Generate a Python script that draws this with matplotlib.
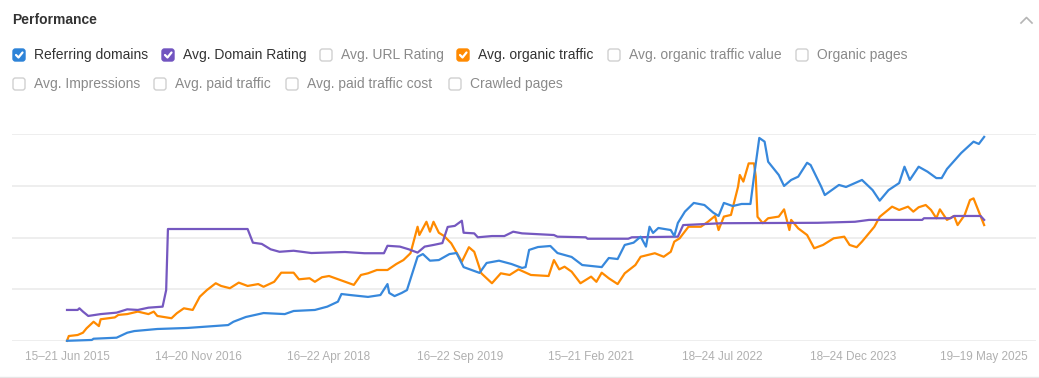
import numpy as np
import matplotlib
matplotlib.use('Agg')
import matplotlib.pyplot as plt
import pandas as pd
from matplotlib.patches import FancyBboxPatch

plt.rcParams['font.family'] = ['Liberation Sans', 'DejaVu Sans']

# weekly data, week 0 = 15 Jun 2015, values as index (0-100 of chart height)
start = pd.Timestamp('2015-06-15')

ref_weeks = [0, 14, 15, 28, 34, 38, 51, 68, 91, 94, 101, 111, 123, 128, 140, 147, 153, 155, 160,
             170, 177, 181, 182, 185, 189, 192, 198, 201, 205, 210, 216, 220, 224, 233, 237, 244,
             251, 257, 259, 261, 266, 273, 277, 285, 291, 302, 306, 311, 315, 320, 324, 327, 329,
             331, 334, 341, 343, 345, 349, 354, 360, 365, 368, 371, 376, 381, 386, 388, 391, 394,
             396, 402, 405, 409, 413, 418, 420, 426, 428, 436, 440, 449, 455, 459, 464, 470, 473,
             476, 481, 486, 491, 494, 497, 505, 512, 515, 518]
ref_domains = [0.1, 0.5, 1.1, 1.6, 4.0, 4.8, 5.8, 6.3, 7.7, 9.3, 11.6, 13.5, 13.0, 14.5, 15.0, 16.6,
               19.0, 22.7, 22.2, 21.3, 22.2, 27.5, 23.2, 21.7, 23.2, 24.6, 40.7, 42.0, 38.8, 39.1,
               42.0, 42.5, 35.7, 32.9, 37.7, 38.8, 37.2, 35.3, 35.7, 44.0, 45.4, 45.9, 42.5, 40.6,
               36.7, 35.7, 40.1, 39.6, 46.4, 47.5, 50.4, 45.6, 55.2, 52.2, 54.6, 53.6, 50.7, 57.0,
               62.5, 66.7, 65.7, 62.0, 60.4, 66.7, 65.2, 66.2, 66.2, 79.4, 98.1, 96.3, 86.6, 80.2,
               74.9, 77.8, 79.4, 86.1, 85.0, 74.5, 70.5, 75.4, 74.4, 77.8, 72.9, 67.8, 72.9, 76.3,
               84.2, 77.8, 84.2, 81.8, 78.7, 78.7, 83.1, 90.8, 96.3, 95.2, 98.6]

dr_weeks = [0, 6, 7, 9, 12, 19, 28, 34, 40, 46, 54, 56, 57, 102, 105, 110, 115, 120, 128, 138,
            157, 168, 179, 181, 188, 193, 198, 202, 207, 212, 215, 219, 223, 224, 230, 232, 240,
            247, 252, 257, 275, 277, 293, 294, 317, 319, 345, 348, 370, 424, 445, 453, 483, 484,
            499, 501, 516, 518]
domain_rating = [15.0, 15.0, 15.8, 14.2, 12.1, 13.0, 13.7, 15.3, 15.0, 16.1, 16.6, 24.6, 54.1,
                 54.1, 47.5, 46.9, 44.3, 43.1, 43.6, 42.5, 43.0, 42.4, 42.4, 46.0, 45.6, 44.3,
                 42.7, 45.6, 46.4, 47.3, 55.1, 55.6, 58.1, 52.3, 52.0, 50.1, 50.7, 50.7, 52.8,
                 52.0, 51.2, 50.4, 50.1, 49.4, 49.4, 50.1, 50.4, 56.0, 56.9, 57.1, 57.6, 58.5,
                 58.5, 59.3, 59.3, 60.4, 60.4, 58.5]

org_weeks = [0, 1, 6, 9, 11, 15, 18, 19, 27, 29, 34, 40, 46, 49, 51, 59, 62, 66, 71, 75, 79, 84,
             87, 92, 97, 102, 108, 111, 117, 121, 128, 131, 137, 140, 144, 148, 157, 162, 166, 170,
             175, 181, 186, 190, 194, 198, 199, 203, 205, 207, 210, 213, 217, 223, 227, 230, 234,
             240, 245, 250, 255, 262, 272, 275, 278, 281, 285, 290, 296, 299, 302, 306, 311, 315,
             321, 324, 332, 337, 341, 343, 346, 351, 358, 362, 366, 368, 371, 375, 379, 380, 382,
             385, 388, 389, 390, 393, 396, 402, 405, 408, 409, 413, 418, 422, 427, 433, 439, 442,
             446, 449, 456, 459, 466, 470, 475, 478, 481, 485, 488, 491, 493, 497, 501, 503, 507,
             510, 512, 515, 518]
organic_traffic = [0.1, 2.4, 2.9, 4.0, 6.1, 9.3, 7.2, 10.5, 11.4, 12.6, 13.0, 14.2, 13.0, 14.2,
                   12.1, 11.0, 13.4, 15.8, 15.0, 21.4, 24.6, 27.9, 26.6, 25.5, 28.2, 26.6, 27.5,
                   26.2, 28.6, 33.0, 33.0, 29.8, 30.3, 28.6, 30.8, 31.4, 28.6, 27.1, 31.9, 32.7,
                   34.3, 34.3, 37.2, 39.1, 42.4, 55.2, 51.2, 57.6, 52.8, 57.6, 52.3, 50.7, 47.2,
                   38.3, 45.3, 43.1, 32.7, 27.9, 32.7, 31.9, 34.6, 31.9, 31.4, 39.1, 34.6, 35.9,
                   33.5, 27.9, 31.1, 28.6, 33.0, 30.3, 27.5, 32.7, 36.7, 40.7, 42.4, 40.7, 43.1,
                   48.0, 49.6, 55.2, 55.2, 57.6, 60.4, 53.6, 60.1, 60.9, 74.5, 80.2, 77.0, 85.8,
                   85.8, 79.4, 60.0, 56.9, 59.3, 60.1, 63.6, 53.6, 58.5, 54.4, 51.2, 44.8, 46.4,
                   49.6, 50.4, 46.4, 45.3, 48.0, 55.2, 60.0, 64.9, 63.3, 64.9, 62.5, 64.6, 65.7,
                   63.3, 59.3, 63.6, 58.5, 60.4, 56.0, 60.9, 68.1, 68.9, 62.5, 56.0]

tick_dates = ['2015-06-15', '2016-11-14', '2018-04-16', '2019-09-16',
              '2021-02-15', '2022-07-18', '2023-12-18', '2025-05-19']
tick_labels = ['15\u201321 Jun 2015', '14\u201320 Nov 2016', '16\u201322 Apr 2018',
               '16\u201322 Sep 2019', '15\u201321 Feb 2021', '18\u201324 Jul 2022',
               '18\u201324 Dec 2023', '19\u201319 May 2025']

row1 = ['Referring domains', 'Avg. Domain Rating', 'Avg. URL Rating', 'Avg. organic traffic',
        'Avg. organic traffic value', 'Organic pages']
row1_on = ['#2d83d8', '#7154c0', None, '#ff8a00', None, None]
row2 = ['Avg. Impressions', 'Avg. paid traffic', 'Avg. paid traffic cost', 'Crawled pages']

BLUE = '#3788dc'
PURPLE = '#7558c0'
ORANGE = '#ff8a00'

W, H = 1039, 378
fig = plt.figure(figsize=(W / 100, H / 100), dpi=100)

# overlay axes in pixel coordinates for header / checkboxes
ov = fig.add_axes([0, 0, 1, 1])
ov.set_xlim(0, W)
ov.set_ylim(H, 0)
ov.axis('off')

ov.text(12, 20, 'Performance', fontsize=10, fontweight='bold', color='#333333', va='center')
ov.plot([1021, 1026.5, 1032], [23, 17.5, 23], color='#b5b5b5', lw=1.2)

def checkbox(x, y, color):
    if color:
        ov.add_patch(FancyBboxPatch((x + 1, y - 6), 12, 12, boxstyle='round,pad=0,rounding_size=2.5',
                                    fc=color, ec=color, lw=1))
        ov.plot([x + 4, x + 6.5, x + 10.5], [y, y + 2.5, y - 2.5], color='white', lw=1.6,
                solid_capstyle='round', solid_joinstyle='round')
    else:
        ov.add_patch(FancyBboxPatch((x + 1, y - 6), 12, 12, boxstyle='round,pad=0,rounding_size=2.5',
                                    fc='white', ec='#d0d0d0', lw=1))

row1_x = [12, 161, 319, 456, 607, 795]
for x, lab, col in zip(row1_x, row1, row1_on):
    checkbox(x, 55, col)
    ov.text(x + 22, 55, lab, fontsize=10, va='center', color='#333333' if col else '#8a8a8a')

row2_x = [12, 153, 285, 448]
for x, lab in zip(row2_x, row2):
    checkbox(x, 84, None)
    ov.text(x + 22, 84, lab, fontsize=10, va='center', color='#8a8a8a')

ov.plot([0, W], [376.5, 376.5], color='#e6e6e6', lw=1)

# main chart
ax = fig.add_axes([12 / W, (H - 341) / H, 1024 / W, 207 / H])
x0 = start + pd.Timedelta(days=-217.5)
x1 = start + pd.Timedelta(days=3831)
ax.set_xlim(x0, x1)
ax.set_ylim(0, 100)

for g in [0, 25, 50, 75, 100]:
    ax.axhline(g, color='#ebebeb', lw=1.2, zorder=0)

def to_dates(weeks):
    return start + pd.to_timedelta(np.array(weeks) * 7, unit='D')

ax.plot(to_dates(ref_weeks), ref_domains, color=BLUE, lw=1.6, clip_on=False, zorder=3)
ax.plot(to_dates(org_weeks), organic_traffic, color=ORANGE, lw=1.6, clip_on=False, zorder=2)
ax.plot(to_dates(dr_weeks), domain_rating, color=PURPLE, lw=1.6, clip_on=False, zorder=2)

ax.set_xticks(pd.to_datetime(tick_dates))
ax.set_xticklabels(tick_labels, fontsize=8.5, color='#b0b0b0')
ax.tick_params(axis='x', length=0, pad=7)
ax.set_yticks([])
for s in ax.spines.values():
    s.set_visible(False)
ax.patch.set_alpha(0)

fig.savefig('out.png', dpi=100)
